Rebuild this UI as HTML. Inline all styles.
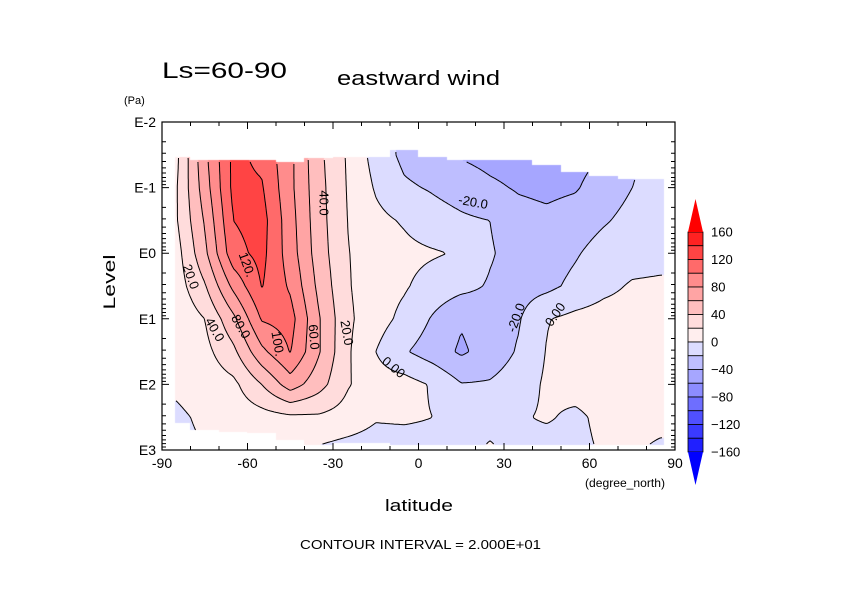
<!DOCTYPE html>
<html><head><meta charset="utf-8">
<style>
body{margin:0;background:#fff;}
#wrap{position:relative;width:842px;height:595px;background:#fff;overflow:hidden;font-family:"Liberation Sans",sans-serif;}
canvas,svg{position:absolute;left:0;top:0;}
</style></head>
<body>
<div id="wrap">
<canvas id="fill" width="842" height="595"></canvas>
<svg id="svg" width="842" height="595"></svg>
</div>
<script>
const lats = [-85,-75,-65,-55,-45,-35,-25,-15,-5,5,15,25,35,45,55,65,75,85];
const levels = [-1.5,-1,-0.5,0,0.5,1,1.5,2,2.5,3];
const row0 = [15,75,125,115,85,45,18,-8,-25,-32,-42,-47,-50,-50,-47,-40,-22,-15];
const row1 = [18,70,125,122,85,47,19,-2,-17,-22,-28,-36,-42,-45,-42,-30,-20,-15];
const row2 = [18,62,120,128,88,48,20,5,-2,-12,-17,-20,-32,-35,-30,-22,-14,-10];
const row3 = [12,55,113,126,90,50,21,10,5,2,-2,-18,-28,-30,-22,-12,-8,-6];
const row4 = [10,38,85,121,97,55,22,8,2,-8,-14,-22,-28,-25,-15,-5,2,3];
const row5 = [5,20,55,102,108,62,24,8,-5,-22,-38,-30,-22,-1,5,8,8,8];
const row6 = [3,14,35,75,101,62,23,0,-18,-30,-43,-32,-18,1,8,10,10,10];
const row7 = [3,8,15,40,70,48,22,8,8,-2,-19,-18,-10,3,8,10,10,10];
const row8 = [-3,3,8,12,16,17,12,2,3,0,-8,-5,-2,2,-4,5,5,5];
const row9 = [-5,0,3,5,5,-3,-8,-10,-10,-8,-5,2,-5,-8,-5,2,2,-3];
const grid = [row0,row1,row2,row3,row4,row5,row6,row7,row8,row9];
const topLevel = [-1.47,-1.42,-1.42,-1.42,-1.39,-1.45,-1.47,-1.47,-1.57,-1.47,-1.42,-1.42,-1.42,-1.34,-1.24,-1.18,-1.13,-1.13];
const bottomLevel = [2.59,2.70,2.73,2.74,2.85,2.92,2.89,2.89,2.92,2.92,2.92,2.92,2.92,2.92,2.92,2.92,2.92,2.92];
const xTicks = [-90,-60,-30,0,30,60,90];
const yTicks = [-2,-1,0,1,2,3];
const yTickLabels = ["E-2","E-1","E0","E1","E2","E3"];
const cbarLevels = [160,140,120,100,80,60,40,20,0,-20,-40,-60,-80,-100,-120,-140,-160];
const cbarLabels = [160,120,80,40,0,-40,-80,-120,-160];
const contourLevels = [-40,-20,0,20,40,60,80,100,120];

const X0=162,X1=675,Y0=122,Y1=450;
function xs(lat){return X0+(lat+90)*(X1-X0)/180;}
function ys(lp){return Y0+(lp+2)*(Y1-Y0)/5;}
function latOf(x){return (x-X0)*180/(X1-X0)-90;}
function lpOf(y){return (y-Y0)*5/(Y1-Y0)-2;}

const bandColors=[
"#0000ff","#2020ff","#3a3aff","#5050ff","#6e6eff","#8c8cff","#a6a6ff","#bebeff","#dcdcff",
"#ffeeee","#ffdcdc","#ffbebe","#ffa4a4","#ff8c8c","#ff6a6a","#ff4444","#ff2222","#ff0000"];
function colorOf(v){let i=Math.floor(v/20)+9;if(i<0)i=0;if(i>17)i=17;return bandColors[i];}

function valueAt(lat,lp){
  let fx=(lat-lats[0])/10, fy=(lp-levels[0])/0.5;
  fx=Math.max(0,Math.min(lats.length-1.0001,fx));
  fy=Math.max(0,Math.min(levels.length-1.0001,fy));
  const i=Math.floor(fx),j=Math.floor(fy),a=fx-i,b=fy-j;
  return (grid[j][i]*(1-a)+grid[j][i+1]*a)*(1-b)+(grid[j+1][i]*(1-a)+grid[j+1][i+1]*a)*b;
}
function inData(lat,lp){
  if(lat<-85.5||lat>86)return false;
  let c=Math.round((lat-lats[0])/10);c=Math.max(0,Math.min(lats.length-1,c));
  return lp>=topLevel[c]&&lp<=bottomLevel[c];
}
const ctx=document.getElementById('fill').getContext('2d');
for(let x=X0;x<X1;x++){for(let y=Y0;y<Y1;y++){
  const la=latOf(x+0.5),lp=lpOf(y+0.5);
  if(!inData(la,lp))continue;
  ctx.fillStyle=colorOf(valueAt(la,lp));ctx.fillRect(x,y,1,1);
}}
const NS="http://www.w3.org/2000/svg";
const svg=document.getElementById('svg');
function el(t,attrs,parent){const e=document.createElementNS(NS,t);for(const k in attrs)e.setAttribute(k,attrs[k]);(parent||svg).appendChild(e);return e;}
const st=2;
for(const L of contourLevels){
  let d="";
  for(let x=X0;x<X1-st;x+=st){for(let y=Y0;y<Y1-st;y+=st){
    const pts=[[x,y],[x+st,y],[x+st,y+st],[x,y+st]];
    let ok=true;const v=pts.map(p=>{const la=latOf(p[0]),lp=lpOf(p[1]);if(!inData(la,lp))ok=false;return valueAt(la,lp);});
    if(!ok)continue;
    const cr=[];
    for(let k=0;k<4;k++){const a=v[k],b=v[(k+1)%4];
      if((a<L)!==(b<L)){const t=(L-a)/(b-a);const p=pts[k],q=pts[(k+1)%4];cr.push([p[0]+(q[0]-p[0])*t,p[1]+(q[1]-p[1])*t]);}}
    if(cr.length>=2){d+=`M${cr[0][0].toFixed(1)} ${cr[0][1].toFixed(1)}L${cr[1][0].toFixed(1)} ${cr[1][1].toFixed(1)}`;
      if(cr.length===4)d+=`M${cr[2][0].toFixed(1)} ${cr[2][1].toFixed(1)}L${cr[3][0].toFixed(1)} ${cr[3][1].toFixed(1)}`;}
  }}
  const p=el('path',{d:d,stroke:'#000','stroke-width':'1',fill:'none'});
  
  
}
const clabels=[["20.0",190,277,70],["40.0",214,330,60],["80.0",240,327,60],["120.",246,265,70],["100.",277,344,80],["60.0",313,337,85],["40.0",323,203,90],["20.0",346,333,80],["0.00",393,368,40],["-20.0",473,203,10],["-20.0",517,318,-70],["0.00",556,315,-55]];
for(const c of clabels){
  const t=el('text',{x:c[1],y:c[2],'font-size':'13','text-anchor':'middle','dominant-baseline':'middle',transform:`rotate(${c[3]} ${c[1]} ${c[2]})`,fill:'#000'});
  t.textContent=c[0];
  
  
}
const fr=el('rect',{x:X0,y:Y0,width:X1-X0,height:Y1-Y0,fill:'none',stroke:'#000','stroke-width':'1.2'});


let td="";
for(let lat=-90;lat<=90;lat+=10){const x=xs(lat),len=(lat%30===0)?7:4;td+=`M${x} ${Y1}v${-len}M${x} ${Y0}v${len}`;}
for(let d=-2;d<3;d++){for(let m=1;m<10;m++){const y=ys(d+Math.log10(m));const len=m===1?7:4;td+=`M${X0} ${y}h${len}M${X1} ${y}h${-len}`;}}
const tk=el('path',{d:td,stroke:'#000','stroke-width':'1'});


for(const v of xTicks){const t=el('text',{x:xs(v),y:468,'font-size':'14','text-anchor':'middle'});t.textContent=String(v);
  
  }
yTicks.forEach((v,i)=>{const t=el('text',{x:156,y:ys(v)+5,'font-size':'14','text-anchor':'end'});t.textContent=yTickLabels[i];
  
  });
const CB_X=688,CB_W=15,CB_T=232,CB_H=13.75;
for(let k=0;k<cbarLevels.length-1;k++){
  const r=el('rect',{x:CB_X,y:CB_T+k*CB_H,width:CB_W,height:CB_H,fill:colorOf(cbarLevels[k+1]+10),stroke:'#000','stroke-width':'0.8'});
  
  
}
const nb=cbarLevels.length-1;
const tri1=el('polygon',{points:`${CB_X},${CB_T} ${CB_X+CB_W},${CB_T} ${CB_X+CB_W/2},${CB_T-33}`,fill:'#ff0000'});


const tri2=el('polygon',{points:`${CB_X},${CB_T+nb*CB_H} ${CB_X+CB_W},${CB_T+nb*CB_H} ${CB_X+CB_W/2},${CB_T+nb*CB_H+33}`,fill:'#0000ff'});


for(const v of cbarLabels){const k=cbarLevels.indexOf(v);
  const t=el('text',{x:711,y:CB_T+k*CB_H+4.5,'font-size':'13'});t.textContent=(v<0?"\u2212":"")+Math.abs(v);
  
  }
function txt(s,attrs,name){const t=el('text',attrs);t.textContent=s;}
txt("Ls=60-90",{x:162,y:78,'font-size':'22',textLength:'125',lengthAdjust:'spacingAndGlyphs'},"season-title");
txt("eastward wind",{x:337,y:85,'font-size':'20',textLength:'163',lengthAdjust:'spacingAndGlyphs'},"chart-title");
txt("(Pa)",{x:124,y:104,'font-size':'11'},"y-axis-unit");
txt("Level",{x:115,y:282,'font-size':'17','text-anchor':'middle',textLength:'55',lengthAdjust:'spacingAndGlyphs',transform:'rotate(-90 115 282)'},"y-axis-title");
txt("latitude",{x:385,y:511,'font-size':'17',textLength:'68',lengthAdjust:'spacingAndGlyphs'},"x-axis-title");
txt("(degree_north)",{x:585,y:487,'font-size':'12',textLength:'80',lengthAdjust:'spacingAndGlyphs'},"x-axis-unit");
txt("CONTOUR INTERVAL = 2.000E+01",{x:300,y:549,'font-size':'13',textLength:'241',lengthAdjust:'spacingAndGlyphs'},"contour-interval-note");
</script>
</body></html>
